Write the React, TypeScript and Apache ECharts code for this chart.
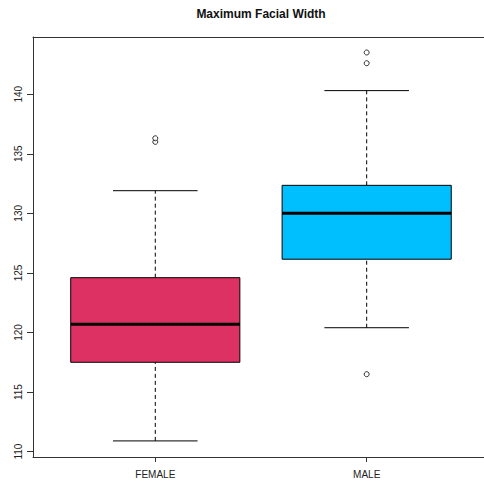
import React, { useEffect, useRef } from "react";
import * as echarts from "echarts";

const title = "Maximum Facial Width";
const categories = ["FEMALE", "MALE"];
const lowerWhisker = [110.9, 120.4];
const q1 = [117.5, 126.15];
const median = [120.7, 130.0];
const q3 = [124.6, 132.35];
const upperWhisker = [131.9, 140.3];
const femaleOutliers = [136.0, 136.3];
const maleOutliers = [116.5, 142.6, 143.5];
const yTicks = [110, 115, 120, 125, 130, 135, 140];
const boxColors = ["#DD3163", "#00BFFF"];

const FONT = "'Liberation Sans', Arial, Helvetica, sans-serif";

export default function App() {
  const ref = useRef<HTMLDivElement>(null);
  useEffect(() => {
    document.body.style.margin = "0";
    if (!ref.current) return;
    const chart = echarts.init(ref.current, null, { renderer: "svg" });
    const boxData = categories.map((_, i) => [
      i + 1,
      lowerWhisker[i],
      q1[i],
      median[i],
      q3[i],
      upperWhisker[i],
    ]);
    const outlierData: number[][] = [];
    femaleOutliers.forEach((v) => outlierData.push([1, v]));
    maleOutliers.forEach((v) => outlierData.push([2, v]));

    const axisLine = { show: true, lineStyle: { color: "#333", width: 1 } };

    const option: any = {
      animation: false,
      backgroundColor: "#ffffff",
      graphic: [
        {
          type: "text",
          x: 261,
          y: 14,
          style: {
            text: title,
            align: "center",
            verticalAlign: "middle",
            font: `bold 12px ${FONT}`,
            fill: "#111",
          },
        },
      ],
      grid: {
        show: false,
        left: 33,
        top: 37,
        width: 451,
        height: 420,
      },
      xAxis: [
        {
          type: "value",
          position: "bottom",
          min: 0.4215,
          max: 2.555,
          splitLine: { show: false },
          axisLine,
          axisTick: {
            show: true,
            customValues: [1, 2],
            length: 5,
            lineStyle: { color: "#333" },
          },
          axisLabel: {
            customValues: [1, 2],
            formatter: (v: number) => categories[Math.round(v) - 1] ?? "",
            margin: 12,
            fontSize: 10,
            fontFamily: FONT,
            color: "#222",
          },
        },
        {
          type: "value",
          position: "top",
          min: 0.4215,
          max: 2.555,
          splitLine: { show: false },
          axisLine,
          axisTick: { show: false },
          axisLabel: { show: false },
        },
      ],
      yAxis: {
        type: "value",
        min: 109.55,
        max: 144.8,
        splitLine: { show: false },
        axisLine,
        axisTick: {
          show: true,
          customValues: yTicks,
          length: 6,
          lineStyle: { color: "#333" },
        },
        axisLabel: {
          customValues: yTicks,
          rotate: 90,
          margin: 10,
          fontSize: 10,
          fontFamily: FONT,
          color: "#222",
        },
      },
      series: [
        {
          type: "custom",
          data: boxData,
          encode: { x: 0, y: [1, 2, 3, 4, 5] },
          renderItem: (params: any, api: any) => {
            const x = api.value(0);
            const lo = api.value(1);
            const a = api.value(2);
            const m = api.value(3);
            const b = api.value(4);
            const hi = api.value(5);
            const c = (xx: number, yy: number) => api.coord([xx, yy]);
            const pLo = c(x, lo);
            const pA = c(x, a);
            const pB = c(x, b);
            const pHi = c(x, hi);
            const left = c(x - 0.4, m)[0];
            const right = c(x + 0.4, m)[0];
            const capL = c(x - 0.2, m)[0];
            const capR = c(x + 0.2, m)[0];
            const pM = c(x, m);
            const dash = { stroke: "#000", lineWidth: 1, lineDash: [4, 3] };
            const solid = { stroke: "#000", lineWidth: 1 };
            return {
              type: "group",
              children: [
                {
                  type: "line",
                  shape: { x1: pLo[0], y1: pLo[1], x2: pA[0], y2: pA[1] },
                  style: dash,
                },
                {
                  type: "line",
                  shape: { x1: pB[0], y1: pB[1], x2: pHi[0], y2: pHi[1] },
                  style: dash,
                },
                {
                  type: "line",
                  shape: { x1: capL, y1: pLo[1], x2: capR, y2: pLo[1] },
                  style: solid,
                },
                {
                  type: "line",
                  shape: { x1: capL, y1: pHi[1], x2: capR, y2: pHi[1] },
                  style: solid,
                },
                {
                  type: "rect",
                  shape: {
                    x: left,
                    y: pB[1],
                    width: right - left,
                    height: pA[1] - pB[1],
                  },
                  style: {
                    fill: boxColors[params.dataIndex],
                    stroke: "#000",
                    lineWidth: 1,
                  },
                },
                {
                  type: "line",
                  shape: { x1: left, y1: pM[1], x2: right, y2: pM[1] },
                  style: { stroke: "#000", lineWidth: 3 },
                },
              ],
            };
          },
        },
        {
          type: "scatter",
          data: outlierData,
          symbol: "circle",
          symbolSize: 5,
          itemStyle: {
            color: "#fff",
            borderColor: "#000",
            borderWidth: 1,
          },
          z: 3,
        },
      ],
    };
    chart.setOption(option);
    return () => chart.dispose();
  }, []);
  return (
    <div
      ref={ref}
      style={{ position: "fixed", left: 0, top: 0, width: 484, height: 482 }}
    />
  );
}
